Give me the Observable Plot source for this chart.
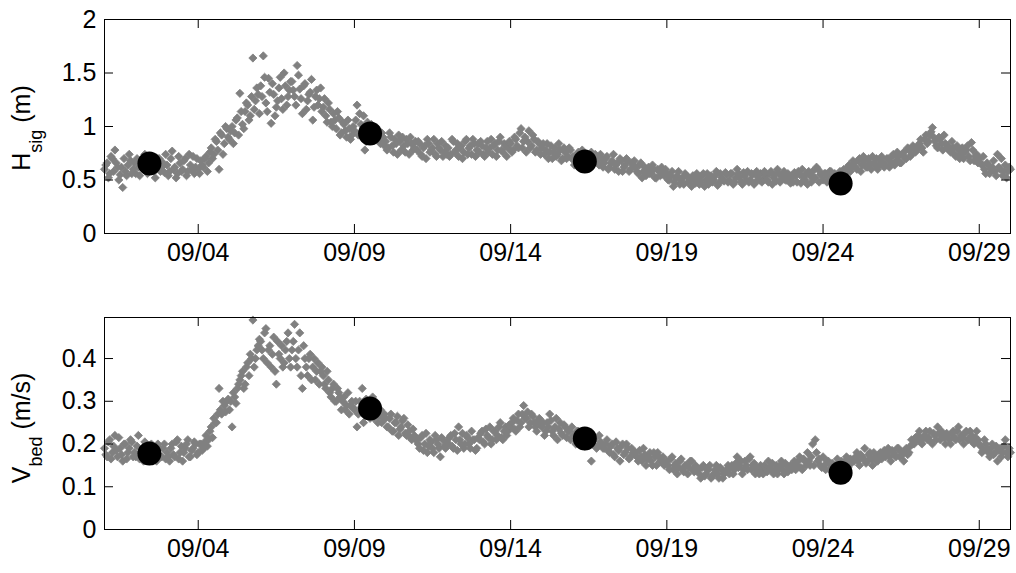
<!DOCTYPE html>
<html>
<head>
<meta charset="utf-8">
<script src="https://cdn.jsdelivr.net/npm/d3@7"></script>
<script src="https://cdn.jsdelivr.net/npm/@observablehq/plot@0.6"></script>
<style>
  html, body { margin: 0; padding: 0; background: #fff; }
  #chart svg { display: block; }
</style>
</head>
<body>
<div id="chart"></div>
<script>
// ---- data ----
const sampleStart = "2010-09-01T00:00:00Z";   // first record
const sampleStepHours = 2;                    // step within each array
const oddOffsetHours = 1;                     // the "odd" arrays sit one hour later

// significant wave height H_sig (m), even hours (00, 02, ... 22), one row per day
const hsig = [
  0.60, 0.66, 0.56, 0.70, 0.78, 0.62, 0.55, 0.43, 0.58, 0.64, 0.68, 0.60,   // 09/01
  0.56, 0.62, 0.68, 0.60, 0.72, 0.58, 0.64, 0.66, 0.60, 0.70, 0.62, 0.57,   // 09/02
  0.64, 0.58, 0.77, 0.62, 0.56, 0.66, 0.60, 0.70, 0.58, 0.64, 0.72, 0.62,   // 09/03
  0.60, 0.68, 0.62, 0.72, 0.66, 0.80, 0.74, 0.86, 0.60, 0.92, 0.84, 0.98,   // 09/04
  0.88, 1.00, 0.94, 1.08, 1.31, 1.02, 1.14, 1.20, 1.10, 1.64, 1.24, 1.30,   // 09/05
  1.38, 1.66, 1.22, 1.45, 1.03, 1.30, 1.18, 1.36, 1.26, 1.50, 1.20, 1.34,   // 09/06
  1.42, 1.28, 1.57, 1.35, 1.12, 1.40, 1.24, 1.32, 1.06, 1.28, 1.20, 1.36,   // 09/07
  1.18, 1.10, 1.22, 1.04, 1.12, 0.98, 1.08, 0.94, 1.02, 0.90, 0.98, 0.92,   // 09/08
  0.96, 1.20, 1.12, 0.90, 0.78, 1.04, 0.94, 0.98, 0.88, 0.92, 0.84, 0.90,   // 09/09
  0.86, 0.80, 0.90, 0.76, 0.84, 0.92, 0.78, 0.82, 0.88, 0.74, 0.84, 0.80,   // 09/10
  0.78, 0.84, 0.72, 0.82, 0.88, 0.76, 0.80, 0.74, 0.84, 0.78, 0.72, 0.82,   // 09/11
  0.80, 0.74, 0.86, 0.78, 0.72, 0.82, 0.76, 0.88, 0.80, 0.74, 0.84, 0.78,   // 09/12
  0.76, 0.82, 0.72, 0.86, 0.80, 0.74, 0.84, 0.78, 0.90, 0.76, 0.82, 0.80,   // 09/13
  0.84, 0.78, 0.88, 0.80, 0.98, 0.86, 0.76, 0.96, 0.82, 0.88, 0.78, 0.84,   // 09/14
  0.80, 0.74, 0.84, 0.76, 0.70, 0.80, 0.74, 0.78, 0.70, 0.76, 0.72, 0.78,   // 09/15
  0.72, 0.66, 0.76, 0.70, 0.74, 0.64, 0.70, 0.76, 0.68, 0.72, 0.64, 0.70,   // 09/16
  0.66, 0.72, 0.62, 0.68, 0.60, 0.66, 0.70, 0.58, 0.64, 0.68, 0.60, 0.64,   // 09/17
  0.62, 0.56, 0.66, 0.58, 0.54, 0.62, 0.56, 0.60, 0.52, 0.58, 0.62, 0.54,   // 09/18
  0.56, 0.50, 0.58, 0.48, 0.54, 0.46, 0.52, 0.56, 0.48, 0.50, 0.54, 0.47,   // 09/19
  0.52, 0.48, 0.56, 0.50, 0.46, 0.54, 0.50, 0.58, 0.47, 0.52, 0.49, 0.55,   // 09/20
  0.50, 0.56, 0.48, 0.60, 0.52, 0.46, 0.54, 0.58, 0.50, 0.55, 0.48, 0.53,   // 09/21
  0.56, 0.50, 0.54, 0.48, 0.58, 0.52, 0.49, 0.56, 0.51, 0.58, 0.50, 0.54,   // 09/22
  0.52, 0.57, 0.48, 0.55, 0.60, 0.50, 0.46, 0.54, 0.58, 0.52, 0.60, 0.55,   // 09/23
  0.50, 0.56, 0.52, 0.58, 0.54, 0.49, 0.52, 0.56, 0.60, 0.58, 0.64, 0.62,   // 09/24
  0.66, 0.60, 0.70, 0.64, 0.68, 0.62, 0.66, 0.72, 0.64, 0.60, 0.68, 0.66,   // 09/25
  0.64, 0.70, 0.66, 0.74, 0.68, 0.72, 0.66, 0.76, 0.70, 0.78, 0.74, 0.80,   // 09/26
  0.78, 0.84, 0.80, 0.88, 0.84, 0.92, 0.99, 0.86, 0.80, 0.88, 0.78, 0.84,   // 09/27
  0.82, 0.76, 0.80, 0.72, 0.78, 0.74, 0.70, 0.78, 0.72, 0.85, 0.68, 0.74,   // 09/28
  0.70, 0.64, 0.60, 0.66, 0.56, 0.62, 0.58, 0.74, 0.60, 0.54, 0.64, 0.58,   // 09/29
  0.60                                                                      // 09/30
];
// H_sig (m), odd hours (01, 03, ... 23)
const hsigOdd = [
  0.64, 0.52, 0.72, 0.58, 0.66, 0.50, 0.62, 0.70, 0.54, 0.74, 0.56, 0.66,   // 09/01
  0.70, 0.54, 0.64, 0.74, 0.56, 0.68, 0.60, 0.52, 0.70, 0.58, 0.66, 0.74,   // 09/02
  0.54, 0.70, 0.60, 0.52, 0.72, 0.58, 0.68, 0.54, 0.74, 0.60, 0.56, 0.70,   // 09/03
  0.56, 0.64, 0.70, 0.58, 0.76, 0.70, 0.88, 0.78, 0.94, 0.74, 1.00, 0.90,   // 09/04
  0.96, 0.84, 1.06, 0.92, 1.14, 0.98, 1.22, 1.06, 1.28, 1.16, 1.36, 1.12,   // 09/05
  1.28, 1.46, 1.14, 1.32, 1.40, 1.10, 1.24, 1.46, 1.16, 1.38, 1.28, 1.42,   // 09/06
  1.34, 1.20, 1.48, 1.26, 1.38, 1.16, 1.30, 1.44, 1.18, 1.34, 1.26, 1.14,   // 09/07
  1.26, 1.04, 1.16, 1.00, 1.06, 1.14, 0.92, 1.04, 0.96, 1.06, 0.88, 1.00,   // 09/08
  1.06, 0.92, 1.02, 1.10, 0.86, 0.96, 1.02, 0.88, 0.96, 0.86, 0.94, 0.82,   // 09/09
  0.78, 0.94, 0.82, 0.88, 0.74, 0.86, 0.90, 0.76, 0.84, 0.90, 0.78, 0.86,   // 09/10
  0.86, 0.74, 0.80, 0.70, 0.84, 0.78, 0.88, 0.72, 0.80, 0.86, 0.76, 0.74,   // 09/11
  0.72, 0.88, 0.76, 0.84, 0.80, 0.70, 0.86, 0.74, 0.82, 0.88, 0.72, 0.84,   // 09/12
  0.86, 0.74, 0.80, 0.76, 0.88, 0.82, 0.72, 0.86, 0.78, 0.84, 0.72, 0.86,   // 09/13
  0.76, 0.90, 0.82, 0.94, 0.80, 0.90, 0.86, 0.80, 0.92, 0.76, 0.86, 0.74,   // 09/14
  0.84, 0.78, 0.70, 0.82, 0.76, 0.72, 0.84, 0.68, 0.80, 0.70, 0.80, 0.70,   // 09/15
  0.64, 0.74, 0.68, 0.78, 0.66, 0.72, 0.62, 0.70, 0.74, 0.66, 0.74, 0.62,   // 09/16
  0.70, 0.60, 0.66, 0.74, 0.64, 0.58, 0.68, 0.62, 0.70, 0.58, 0.66, 0.68,   // 09/17
  0.58, 0.64, 0.52, 0.62, 0.60, 0.56, 0.64, 0.52, 0.60, 0.54, 0.58, 0.60,   // 09/18
  0.50, 0.54, 0.44, 0.52, 0.58, 0.50, 0.46, 0.54, 0.52, 0.44, 0.50, 0.56,   // 09/19
  0.46, 0.54, 0.44, 0.56, 0.52, 0.48, 0.54, 0.45, 0.56, 0.50, 0.57, 0.48,   // 09/20
  0.56, 0.46, 0.52, 0.56, 0.48, 0.57, 0.50, 0.48, 0.56, 0.46, 0.58, 0.50,   // 09/21
  0.48, 0.58, 0.50, 0.56, 0.46, 0.55, 0.60, 0.48, 0.54, 0.50, 0.56, 0.47,   // 09/22
  0.48, 0.54, 0.58, 0.47, 0.52, 0.56, 0.58, 0.48, 0.52, 0.62, 0.48, 0.56,   // 09/23
  0.56, 0.48, 0.58, 0.50, 0.56, 0.52, 0.58, 0.50, 0.56, 0.62, 0.58, 0.68,   // 09/24
  0.62, 0.68, 0.58, 0.72, 0.62, 0.70, 0.60, 0.66, 0.70, 0.64, 0.72, 0.62,   // 09/25
  0.70, 0.62, 0.72, 0.64, 0.76, 0.66, 0.74, 0.70, 0.80, 0.72, 0.82, 0.76,   // 09/26
  0.82, 0.88, 0.76, 0.92, 0.86, 0.95, 0.90, 0.82, 0.90, 0.84, 0.92, 0.80,   // 09/27
  0.78, 0.86, 0.74, 0.82, 0.70, 0.80, 0.76, 0.82, 0.68, 0.78, 0.72, 0.66,   // 09/28
  0.66, 0.72, 0.56, 0.64, 0.60, 0.68, 0.54, 0.62, 0.70, 0.58, 0.52, 0.62    // 09/29
];

// near-bed velocity V_bed (m/s), even hours, one row per day
const vbed = [
  0.19, 0.17, 0.21, 0.18, 0.22, 0.17, 0.19, 0.16, 0.20, 0.18, 0.21, 0.17,   // 09/01
  0.17, 0.22, 0.18, 0.16, 0.19, 0.17, 0.20, 0.18, 0.16, 0.19, 0.17, 0.20,   // 09/02
  0.18, 0.16, 0.20, 0.17, 0.21, 0.18, 0.16, 0.19, 0.21, 0.17, 0.19, 0.20,   // 09/03
  0.18, 0.20, 0.19, 0.22, 0.21, 0.24, 0.26, 0.25, 0.33, 0.27, 0.29, 0.30,   // 09/04
  0.28, 0.24, 0.31, 0.33, 0.35, 0.37, 0.34, 0.39, 0.41, 0.49, 0.40, 0.43,   // 09/05
  0.44, 0.40, 0.47, 0.42, 0.38, 0.45, 0.34, 0.41, 0.43, 0.39, 0.44, 0.40,   // 09/06
  0.42, 0.48, 0.38, 0.46, 0.33, 0.40, 0.36, 0.41, 0.38, 0.35, 0.39, 0.37,   // 09/07
  0.36, 0.33, 0.35, 0.31, 0.34, 0.30, 0.32, 0.28, 0.31, 0.29, 0.27, 0.30,   // 09/08
  0.28, 0.24, 0.30, 0.33, 0.27, 0.29, 0.26, 0.31, 0.27, 0.25, 0.28, 0.26,   // 09/09
  0.26, 0.24, 0.27, 0.23, 0.25, 0.22, 0.24, 0.26, 0.22, 0.23, 0.21, 0.22,   // 09/10
  0.21, 0.19, 0.22, 0.20, 0.18, 0.21, 0.19, 0.22, 0.20, 0.17, 0.21, 0.19,   // 09/11
  0.20, 0.22, 0.19, 0.21, 0.24, 0.20, 0.19, 0.22, 0.20, 0.23, 0.21, 0.19,   // 09/12
  0.21, 0.23, 0.20, 0.22, 0.24, 0.21, 0.23, 0.22, 0.25, 0.21, 0.24, 0.23,   // 09/13
  0.24, 0.26, 0.23, 0.27, 0.25, 0.29, 0.26, 0.24, 0.27, 0.25, 0.23, 0.26,   // 09/14
  0.24, 0.22, 0.25, 0.27, 0.23, 0.24, 0.21, 0.25, 0.22, 0.24, 0.23, 0.21,   // 09/15
  0.22, 0.20, 0.23, 0.21, 0.22, 0.20, 0.21, 0.16, 0.21, 0.19, 0.22, 0.20,   // 09/16
  0.19, 0.21, 0.18, 0.20, 0.17, 0.19, 0.16, 0.20, 0.18, 0.19, 0.17, 0.18,   // 09/17
  0.18, 0.16, 0.17, 0.19, 0.15, 0.17, 0.16, 0.18, 0.15, 0.17, 0.16, 0.15,   // 09/18
  0.16, 0.14, 0.17, 0.15, 0.13, 0.16, 0.14, 0.15, 0.13, 0.16, 0.14, 0.15,   // 09/19
  0.14, 0.12, 0.15, 0.13, 0.14, 0.12, 0.13, 0.15, 0.12, 0.14, 0.13, 0.14,   // 09/20
  0.13, 0.15, 0.14, 0.17, 0.15, 0.13, 0.16, 0.14, 0.17, 0.15, 0.13, 0.14,   // 09/21
  0.15, 0.13, 0.14, 0.16, 0.14, 0.13, 0.15, 0.14, 0.16, 0.13, 0.15, 0.14,   // 09/22
  0.14, 0.16, 0.15, 0.17, 0.14, 0.16, 0.18, 0.15, 0.20, 0.21, 0.16, 0.15,   // 09/23
  0.17, 0.14, 0.16, 0.15, 0.13, 0.15, 0.14, 0.16, 0.15, 0.17, 0.15, 0.16,   // 09/24
  0.16, 0.18, 0.15, 0.17, 0.19, 0.16, 0.18, 0.15, 0.17, 0.16, 0.18, 0.17,   // 09/25
  0.17, 0.19, 0.16, 0.18, 0.17, 0.19, 0.18, 0.16, 0.19, 0.18, 0.21, 0.20,   // 09/26
  0.21, 0.23, 0.20, 0.22, 0.21, 0.23, 0.20, 0.22, 0.24, 0.21, 0.22, 0.20,   // 09/27
  0.22, 0.20, 0.23, 0.21, 0.24, 0.22, 0.20, 0.23, 0.21, 0.22, 0.20, 0.23,   // 09/28
  0.20, 0.18, 0.21, 0.19, 0.17, 0.20, 0.18, 0.16, 0.19, 0.18, 0.21, 0.17,   // 09/29
  0.18                                                                      // 09/30
];
// V_bed (m/s), odd hours
const vbedOdd = [
  0.175, 0.205, 0.165, 0.195, 0.185, 0.215, 0.175, 0.200, 0.165, 0.190, 0.205, 0.180,   // 09/01
  0.195, 0.165, 0.185, 0.205, 0.170, 0.190, 0.160, 0.185, 0.200, 0.170, 0.190, 0.165,   // 09/02
  0.170, 0.190, 0.175, 0.205, 0.165, 0.195, 0.180, 0.200, 0.170, 0.185, 0.205, 0.175,   // 09/03
  0.200, 0.185, 0.205, 0.195, 0.230, 0.215, 0.250, 0.270, 0.280, 0.300, 0.275, 0.305,   // 09/04
  0.300, 0.320, 0.295, 0.340, 0.360, 0.330, 0.380, 0.360, 0.400, 0.380, 0.420, 0.445,   // 09/05
  0.420, 0.460, 0.390, 0.430, 0.410, 0.370, 0.440, 0.400, 0.380, 0.420, 0.460, 0.380,   // 09/06
  0.440, 0.400, 0.420, 0.360, 0.430, 0.380, 0.400, 0.350, 0.400, 0.370, 0.340, 0.380,   // 09/07
  0.340, 0.370, 0.320, 0.330, 0.300, 0.330, 0.310, 0.300, 0.280, 0.320, 0.290, 0.285,   // 09/08
  0.300, 0.270, 0.285, 0.250, 0.305, 0.270, 0.300, 0.260, 0.290, 0.265, 0.250, 0.270,   // 09/09
  0.240, 0.260, 0.230, 0.250, 0.265, 0.235, 0.255, 0.225, 0.245, 0.215, 0.235, 0.210,   // 09/10
  0.200, 0.215, 0.185, 0.225, 0.195, 0.205, 0.180, 0.210, 0.190, 0.215, 0.195, 0.205,   // 09/11
  0.215, 0.195, 0.225, 0.185, 0.210, 0.225, 0.200, 0.215, 0.190, 0.210, 0.185, 0.215,   // 09/12
  0.225, 0.205, 0.235, 0.215, 0.200, 0.230, 0.210, 0.240, 0.215, 0.230, 0.220, 0.245,   // 09/13
  0.250, 0.235, 0.255, 0.240, 0.270, 0.260, 0.275, 0.250, 0.265, 0.240, 0.255, 0.245,   // 09/14
  0.250, 0.230, 0.240, 0.255, 0.220, 0.260, 0.235, 0.225, 0.245, 0.215, 0.230, 0.240,   // 09/15
  0.210, 0.230, 0.200, 0.215, 0.195, 0.225, 0.205, 0.200, 0.215, 0.195, 0.205, 0.190,   // 09/16
  0.200, 0.185, 0.195, 0.175, 0.205, 0.185, 0.195, 0.175, 0.200, 0.165, 0.190, 0.175,   // 09/17
  0.170, 0.185, 0.160, 0.175, 0.165, 0.180, 0.150, 0.170, 0.180, 0.160, 0.170, 0.155,   // 09/18
  0.150, 0.165, 0.140, 0.155, 0.145, 0.165, 0.135, 0.150, 0.145, 0.160, 0.135, 0.145,   // 09/19
  0.130, 0.145, 0.125, 0.140, 0.150, 0.125, 0.140, 0.130, 0.145, 0.120, 0.135, 0.150,   // 09/20
  0.145, 0.130, 0.155, 0.145, 0.160, 0.140, 0.150, 0.165, 0.140, 0.155, 0.145, 0.130,   // 09/21
  0.140, 0.150, 0.135, 0.145, 0.155, 0.140, 0.130, 0.150, 0.140, 0.155, 0.135, 0.150,   // 09/22
  0.150, 0.140, 0.160, 0.145, 0.165, 0.150, 0.160, 0.170, 0.150, 0.180, 0.165, 0.145,   // 09/23
  0.150, 0.160, 0.140, 0.155, 0.145, 0.165, 0.150, 0.140, 0.160, 0.145, 0.165, 0.160,   // 09/24
  0.170, 0.160, 0.175, 0.165, 0.155, 0.175, 0.165, 0.180, 0.160, 0.175, 0.165, 0.185,   // 09/25
  0.180, 0.170, 0.185, 0.175, 0.190, 0.170, 0.175, 0.185, 0.175, 0.195, 0.200, 0.215,   // 09/26
  0.220, 0.205, 0.215, 0.230, 0.215, 0.205, 0.225, 0.210, 0.225, 0.230, 0.215, 0.225,   // 09/27
  0.210, 0.225, 0.215, 0.230, 0.210, 0.215, 0.225, 0.210, 0.230, 0.205, 0.215, 0.210,   // 09/28
  0.195, 0.185, 0.200, 0.180, 0.190, 0.175, 0.195, 0.185, 0.170, 0.195, 0.180, 0.190    // 09/29
];

// highlighted sampling times (big black dots)
const sampleTimes = ["2010-09-02T10:30:00Z", "2010-09-09T12:00:00Z", "2010-09-16T09:00:00Z", "2010-09-24T13:30:00Z"];
const hsigSamples = [0.654, 0.935, 0.673, 0.467];
const vbedSamples = [0.178, 0.283, 0.213, 0.133];

// axes
const xDomain = ["2010-09-01T00:00:00Z", "2010-09-30T00:00:00Z"];
const xTicks = ["2010-09-04T00:00:00Z", "2010-09-09T00:00:00Z", "2010-09-14T00:00:00Z",
                "2010-09-19T00:00:00Z", "2010-09-24T00:00:00Z", "2010-09-29T00:00:00Z"];
const hsigTicks = [0, 0.5, 1, 1.5, 2];
const vbedTicks = [0, 0.1, 0.2, 0.3, 0.4];
const hsigDomain = [0, 2];
const vbedDomain = [0, 0.496];

// ---- build ----
const t0 = new Date(sampleStart).getTime();
const HOUR = 3600e3;
const series = (even, odd) => [
  ...even.map((v, i) => ({t: new Date(t0 + i * sampleStepHours * HOUR), v})),
  ...odd.map((v, i) => ({t: new Date(t0 + (i * sampleStepHours + oddOffsetHours) * HOUR), v}))
].sort((a, b) => a.t - b.t);
const samples = vals => vals.map((v, i) => ({t: new Date(sampleTimes[i]), v}));
const xd = xDomain.map(d => new Date(d));
const xt = xTicks.map(d => new Date(d));

const FONT = "'Liberation Sans', Arial, Helvetica, sans-serif";
const W = 1016, ML = 104, MR = 6, TICK = 9;

function panel({height, marginTop, marginBottom, yDomain, yTicks, values, sampleVals, label, sub, unit, labelY}) {
  const innerW = W - ML - MR;
  const innerH = height - marginTop - marginBottom;
  const svg = Plot.plot({
    width: W, height, marginLeft: ML, marginRight: MR, marginTop, marginBottom,
    style: {fontFamily: FONT, fontSize: "25px", color: "#000", background: "#fff", overflow: "visible"},
    x: {type: "utc", domain: xd, axis: null},
    y: {domain: yDomain, axis: null},
    marks: [
      Plot.dot(values, {x: "t", y: "v", symbol: "diamond2", r: 3.7, fill: "#808080",
                        stroke: "#808080", strokeWidth: 0.8}),
      Plot.dot(samples(sampleVals), {x: "t", y: "v", r: 12, fill: "#000", stroke: "none"}),
      Plot.frame({stroke: "#000", strokeWidth: 1}),
      // inward ticks (MATLAB style, box on)
      Plot.ruleX(xt, {x: d => d, insetTop: innerH - TICK, stroke: "#000"}),
      Plot.ruleX(xt, {x: d => d, insetBottom: innerH - TICK, stroke: "#000"}),
      Plot.ruleY(yTicks, {y: d => d, insetRight: innerW - TICK, stroke: "#000"}),
      Plot.ruleY(yTicks, {y: d => d, insetLeft: innerW - TICK, stroke: "#000"}),
      Plot.axisX({ticks: xt, anchor: "bottom", tickSize: 0, tickPadding: 10, label: null,
                  tickFormat: d3.utcFormat("%m/%d"), fill: "#000"}),
      Plot.axisY({ticks: yTicks, anchor: "left", tickSize: 0, tickPadding: 8, label: null,
                  tickFormat: d => String(d), fill: "#000"})
    ]
  });
  // rotated axis title with subscript
  const t = d3.select(svg).append("text")
    .attr("transform", `translate(30,${labelY}) rotate(-90)`)
    .attr("text-anchor", "middle")
    .attr("font-family", FONT)
    .attr("font-size", 25)
    .attr("fill", "#000");
  t.append("tspan").text(label);
  t.append("tspan").attr("font-size", 18).attr("dy", 12).text(sub);
  t.append("tspan").attr("dy", -12).text("\u00a0" + unit);
  return svg;
}

const chart = document.getElementById("chart");
chart.append(panel({height: 287, marginTop: 19, marginBottom: 54, yDomain: hsigDomain, yTicks: hsigTicks,
  values: series(hsig, hsigOdd), sampleVals: hsigSamples, label: "H", sub: "sig", unit: "(m)", labelY: 128}));
chart.append(panel({height: 286, marginTop: 30, marginBottom: 44, yDomain: vbedDomain, yTicks: vbedTicks,
  values: series(vbed, vbedOdd), sampleVals: vbedSamples, label: "V", sub: "bed", unit: "(m/s)", labelY: 141}));
</script>
</body>
</html>
